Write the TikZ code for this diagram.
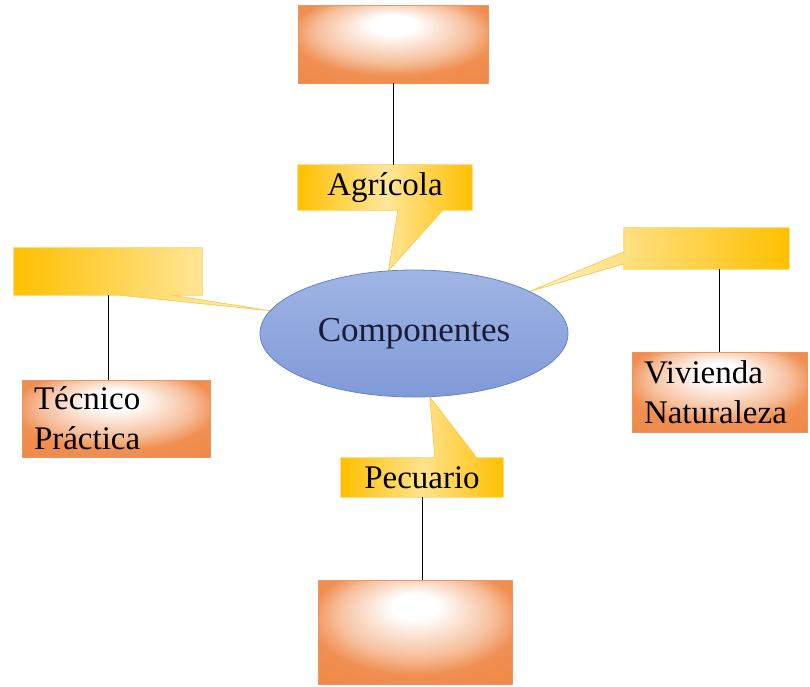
\documentclass[tikz,border=0pt]{standalone}
\usepackage{fontspec}
\setmainfont{Liberation Serif}
\usetikzlibrary{shapes.geometric,calc,backgrounds}
\definecolor{boxorange}{RGB}{238,128,58}
\definecolor{boxline}{RGB}{236,150,100}
\definecolor{gold}{RGB}{255,192,0}
\definecolor{goldline}{RGB}{250,205,90}
\definecolor{comptop}{RGB}{160,181,228}
\definecolor{compbottom}{RGB}{128,154,216}
\definecolor{compline}{RGB}{105,130,195}
\definecolor{comptext}{RGB}{25,28,55}
\pgfdeclareradialshading{boxshade}{\pgfpoint{0bp}{14bp}}{color(0bp)=(white); color(6bp)=(white); color(20bp)=(boxorange!50!white); color(27bp)=(boxorange!88!white); color(50bp)=(boxorange)}
\tikzset{
  resbox/.style={draw=boxline, line width=0.8pt, shading=boxshade, inner sep=0pt},
  textbox/.style={resbox, align=left, inner xsep=12pt, font=\fontsize{33}{40}\selectfont},
  callout/.style={draw=goldline, line width=0.8pt},
  calltext/.style={inner sep=0pt, font=\fontsize{33}{40}\selectfont},
  link/.style={draw=black, line width=0.8pt}
}
\begin{document}
\begin{tikzpicture}[x=1pt, y=-1pt]
\useasboundingbox (0,0) rectangle (810,686);
% centro
\node[ellipse, draw=compline, line width=0.8pt, top color=comptop, bottom color=compbottom,
  minimum width=308pt, minimum height=127pt, inner sep=0pt, text=comptext,
  font=\fontsize{35}{42}\selectfont] (comp) at (414,333.5) {Componentes};
% globos
\node[calltext, minimum width=174pt, minimum height=45pt] (agri) at (385,187.5) {Agrícola};
\node[calltext, minimum width=188pt, minimum height=47pt] (lcal) at (108,271.5) {};
\node[calltext, minimum width=165pt, minimum height=41pt] (rcal) at (706.5,248.5) {};
\node[calltext, minimum width=162pt, minimum height=39pt] (pec) at (422,477.5) {Pecuario};
% cajas
\node[resbox, minimum width=190pt, minimum height=78pt] (top) at (393,44) {};
\node[resbox, minimum width=194pt, minimum height=104pt] (bottom) at (415,632) {};
\node[textbox, text width=164pt, minimum height=77pt] (tec) at (116,418.5) {Técnico\\Práctica};
\node[textbox, text width=151pt, minimum height=80pt] (viv) at (719.5,392) {Vivienda\\Naturaleza};
\begin{scope}[on background layer]
  \draw[callout, left color=gold, right color=gold, middle color=gold!40!white]
    (agri.north west) -- (agri.north east) -- (agri.south east)
    -- ($(agri.south west)+(145,0)$) -- (comp.112) -- ($(agri.south west)+(100,0)$)
    -- (agri.south west) -- cycle;
  \draw[callout, left color=gold, middle color=white, right color=gold!20!white]
    (lcal.north west) -- (lcal.north east) -- (lcal.south east)
    -- ($(lcal.south west)+(158,0)$) -- (comp.171) -- ($(lcal.south west)+(106,0)$)
    -- (lcal.south west) -- cycle;
  \draw[callout, left color=gold!20!white, middle color=white, right color=gold]
    (rcal.north west) -- (rcal.north east) -- (rcal.south east) -- (rcal.south west)
    -- ($(rcal.north west)+(0,36)$) -- (comp.20) -- ($(rcal.north west)+(0,24)$) -- cycle;
  \draw[callout, left color=gold, right color=gold, middle color=gold!45!white]
    (pec.north west) -- ($(pec.north west)+(94,0)$) -- (comp.-76)
    -- ($(pec.north west)+(136,0)$) -- (pec.north east) -- (pec.south east)
    -- (pec.south west) -- cycle;
\end{scope}
% lineas
\draw[link] (top.south) -- (top.south |- agri.north);
\draw[link] (lcal.south) -- (lcal.south |- tec.north);
\draw[link] (viv.north) -- (viv.north |- rcal.south);
\draw[link] (pec.south) -- (pec.south |- bottom.north);
\end{tikzpicture}
\end{document}
